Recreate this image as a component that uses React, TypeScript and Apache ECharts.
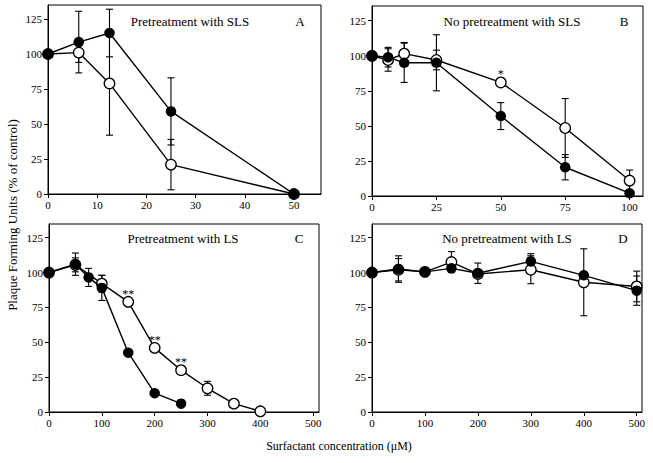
import React, { useEffect, useRef } from "react";
import * as echarts from "echarts";

// Panel A: Pretreatment with SLS
const aX = [0, 6.25, 12.5, 25, 50];
const aFilled = [100, 108.5, 115, 59, 0];
const aFilledErr = [0, 22, 17, 24, 0];
const aOpen = [100, 101, 79, 21, 0];
const aOpenErr = [0, 7, 37, 18, 0];

// Panel B: No pretreatment with SLS
const bX = [0, 6.25, 12.5, 25, 50, 75, 100];
const bFilled = [100, 99, 95, 95, 57, 20.5, 2];
const bFilledErr = [0, 7, 14, 20, 9.6, 9, 2];
const bOpen = [100, 97, 101.5, 97, 81, 48.5, 11];
const bOpenErr = [0, 8, 8, 7, 0, 21, 7.5];
const bStars: [number, number, string][] = [[50, 81, "*"]];

// Panel C: Pretreatment with LS
const cXFilled = [0, 50, 75, 100, 150, 200, 250];
const cFilled = [100, 106, 96.5, 89, 42.5, 13.5, 6];
const cFilledErr = [0, 8, 6.5, 9, 0, 0, 0];
const cXOpen = [0, 50, 100, 150, 200, 250, 300, 350, 400];
const cOpen = [100, 105.5, 92, 79, 46, 30, 17, 6, 0.5];
const cOpenErr = [0, 5, 6, 0, 0, 0, 5, 0, 0];
const cStars: [number, number, string][] = [
  [150, 79, "**"],
  [200, 46, "**"],
  [250, 30, "**"],
];

// Panel D: No pretreatment with LS
const dX = [0, 50, 100, 150, 200, 300, 400, 500];
const dFilled = [100, 102.5, 100.5, 103, 99.5, 108, 98, 87];
const dFilledErr = [0, 9.5, 0, 0, 7.3, 5.5, 0, 10.5];
const dOpen = [100, 102, 100.5, 107.5, 99, 102, 93, 90];
const dOpenErr = [0, 8, 0, 7.5, 0, 10, 24, 11];

const yTicks = [0, 25, 50, 75, 100, 125];
const aXTicks = [0, 10, 20, 30, 40, 50];
const bXTicks = [0, 25, 50, 75, 100];
const cdXTicks = [0, 100, 200, 300, 400, 500];

const panelTitles = [
  "Pretreatment with SLS",
  "No pretreatment with SLS",
  "Pretreatment with LS",
  "No pretreatment with LS",
];
const panelLetters = ["A", "B", "C", "D"];
const yTitle = "Plaque Forming Units (% of control)";
const xTitle = "Surfactant concentration (\u03BCM)";

const FONT = "Liberation Serif";

const App: React.FC = () => {
  const ref = useRef<HTMLDivElement>(null);

  useEffect(() => {
    document.body.style.margin = "0";
    if (!ref.current) return;
    const chart = echarts.init(ref.current, null, { renderer: "svg" });

    const grids = [
      { left: 48, top: 5, width: 273, height: 189 },
      { left: 372, top: 6, width: 271, height: 190 },
      { left: 49, top: 224, width: 270, height: 188 },
      { left: 372, top: 224, width: 270, height: 188 },
    ];
    const xMax = [55.5, 105.2, 511, 510];
    const yMax = [135, 135.5, 134.8, 134.8];
    const xTickSets = [aXTicks, bXTicks, cdXTicks, cdXTicks];

    const axisCommon = {
      axisLine: { show: true, lineStyle: { color: "#000", width: 1 } },
      splitLine: { show: false },
    };

    const xAxis = grids.map((_, i) => ({
      type: "value",
      gridIndex: i,
      min: 0,
      max: xMax[i],
      ...axisCommon,
      axisTick: {
        show: true,
        length: 4,
        customValues: xTickSets[i],
        lineStyle: { color: "#000" },
      },
      axisLabel: {
        customValues: xTickSets[i],
        color: "#000",
        fontFamily: FONT,
        fontSize: 11,
        margin: 5,
      },
    }));
    const yAxis = grids.map((_, i) => ({
      type: "value",
      gridIndex: i,
      min: 0,
      max: yMax[i],
      ...axisCommon,
      axisTick: {
        show: true,
        length: 4,
        customValues: yTicks,
        lineStyle: { color: "#000" },
      },
      axisLabel: {
        customValues: yTicks,
        color: "#000",
        fontFamily: FONT,
        fontSize: 11,
        margin: 6,
      },
    }));

    const errData = (xs: number[], ys: number[], es: number[]) =>
      xs
        .map((x, i) => [x, ys[i] - es[i], ys[i] + es[i]])
        .filter((_, i) => es[i] > 0);

    const errSeries = (idx: number, data: number[][]) => ({
      type: "custom",
      xAxisIndex: idx,
      yAxisIndex: idx,
      z: 1,
      clip: false,
      encode: { x: 0, y: [1, 2] },
      data,
      renderItem: (params: any, api: any) => {
        const x = api.value(0);
        const lo = api.value(1);
        const hi = api.value(2);
        const t = api.coord([x, hi]);
        const b = api.coord([x, lo]);
        const w = 3.5;
        const st = { stroke: "#000", lineWidth: 1.1 };
        return {
          type: "group",
          children: [
            { type: "line", shape: { x1: t[0], y1: t[1], x2: b[0], y2: b[1] }, style: st },
            { type: "line", shape: { x1: t[0] - w, y1: t[1], x2: t[0] + w, y2: t[1] }, style: st },
            { type: "line", shape: { x1: b[0] - w, y1: b[1], x2: b[0] + w, y2: b[1] }, style: st },
          ],
        };
      },
    });

    const lineSeries = (idx: number, xs: number[], ys: number[], filled: boolean) => ({
      type: "line",
      xAxisIndex: idx,
      yAxisIndex: idx,
      z: filled ? 4 : 3,
      clip: false,
      data: xs.map((x, i) => [x, ys[i]]),
      symbol: "circle",
      symbolSize: 10.5,
      showSymbol: true,
      lineStyle: { color: "#000", width: 1.4 },
      itemStyle: filled
        ? { color: "#000", borderColor: "#000", borderWidth: 0 }
        : { color: "#fff", borderColor: "#000", borderWidth: 1.3 },
      emphasis: { disabled: true },
    });

    const starSeries = (idx: number, stars: [number, number, string][]) => ({
      type: "custom",
      xAxisIndex: idx,
      yAxisIndex: idx,
      z: 5,
      clip: false,
      data: stars,
      renderItem: (params: any, api: any) => {
        const p = api.coord([api.value(0), api.value(1)]);
        const s = stars[params.dataIndex][2];
        return {
          type: "text",
          x: p[0],
          y: p[1] - 8,
          style: {
            text: s,
            fill: "#000",
            font: `12px "${FONT}"`,
            textAlign: "center",
            textVerticalAlign: "middle",
          },
        };
      },
    });

    const series: any[] = [
      errSeries(0, errData(aX, aOpen, aOpenErr)),
      errSeries(0, errData(aX, aFilled, aFilledErr)),
      lineSeries(0, aX, aOpen, false),
      lineSeries(0, aX, aFilled, true),

      errSeries(1, errData(bX, bOpen, bOpenErr)),
      errSeries(1, errData(bX, bFilled, bFilledErr)),
      lineSeries(1, bX, bOpen, false),
      lineSeries(1, bX, bFilled, true),
      starSeries(1, bStars),

      errSeries(2, errData(cXOpen, cOpen, cOpenErr)),
      errSeries(2, errData(cXFilled, cFilled, cFilledErr)),
      lineSeries(2, cXOpen, cOpen, false),
      lineSeries(2, cXFilled, cFilled, true),
      starSeries(2, cStars),

      errSeries(3, errData(dX, dOpen, dOpenErr)),
      errSeries(3, errData(dX, dFilled, dFilledErr)),
      lineSeries(3, dX, dOpen, false),
      lineSeries(3, dX, dFilled, true),
    ];

    const titlePos = [
      [190, 21],
      [512, 21],
      [183, 238],
      [507, 238],
    ];
    const letterPos = [
      [300, 21],
      [624, 21],
      [299, 238],
      [623, 238],
    ];

    const graphic: any[] = [];
    panelTitles.forEach((t, i) => {
      graphic.push({
        type: "text",
        x: titlePos[i][0],
        y: titlePos[i][1],
        style: {
          text: t,
          fill: "#000",
          font: `13px "${FONT}"`,
          textAlign: "center",
          textVerticalAlign: "middle",
        },
      });
      graphic.push({
        type: "text",
        x: letterPos[i][0],
        y: letterPos[i][1],
        style: {
          text: panelLetters[i],
          fill: "#000",
          font: `13px "${FONT}"`,
          textAlign: "center",
          textVerticalAlign: "middle",
        },
      });
    });
    graphic.push({
      type: "text",
      x: 12,
      y: 215,
      rotation: Math.PI / 2,
      style: {
        text: yTitle,
        fill: "#000",
        font: `13px "${FONT}"`,
        textAlign: "center",
        textVerticalAlign: "middle",
      },
    });
    graphic.push({
      type: "text",
      x: 339,
      y: 446,
      style: {
        text: xTitle,
        fill: "#000",
        font: `12px "${FONT}"`,
        textAlign: "center",
        textVerticalAlign: "middle",
      },
    });

    chart.setOption({
      animation: false,
      backgroundColor: "#fff",
      grid: grids.map((g) => ({
        ...g,
        show: true,
        borderColor: "#000",
        borderWidth: 1,
        backgroundColor: "transparent",
      })),
      xAxis,
      yAxis,
      series,
      graphic,
    });

    return () => chart.dispose();
  }, []);

  return <div ref={ref} style={{ width: 653, height: 463 }} />;
};

export default App;
